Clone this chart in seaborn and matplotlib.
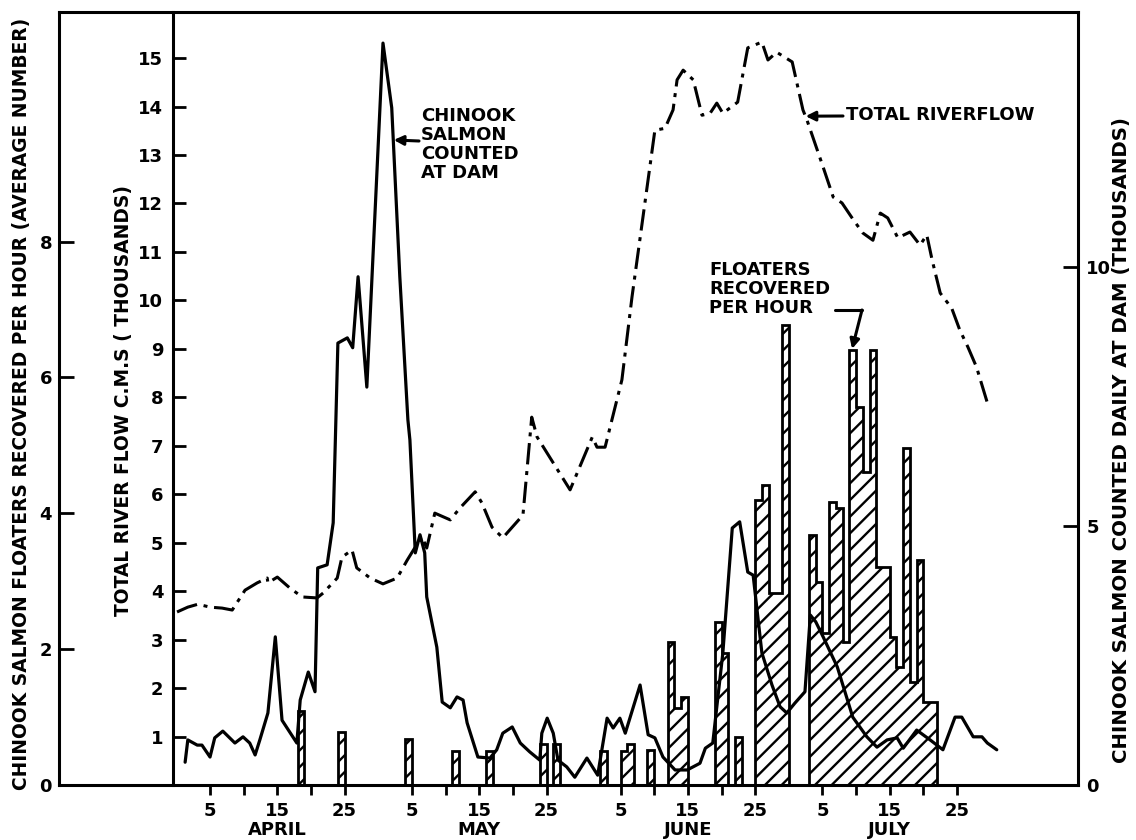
import matplotlib
matplotlib.use("Agg")
import matplotlib.pyplot as plt
import seaborn as sns
import pandas as pd
from matplotlib.lines import Line2D
from matplotlib.transforms import blended_transform_factory

# ---------------- data ----------------
# day index: April 1 = 1, May 1 = 31, June 1 = 62, July 1 = 92
month_names = ["APRIL", "MAY", "JUNE", "JULY"]
month_offsets = [0, 30, 61, 91]
tick_days_in_month = [5, 10, 15, 20, 25]
labelled_days = [5, 15, 25]

# Chinook salmon counted daily at dam (thousands)
salmon_day = [1.3, 1.7, 3.1, 3.8, 5.0, 5.7, 6.9, 8.7, 9.9, 10.9, 11.7, 12.4, 13.6, 14.7, 15.7,
              17.9, 18.4, 19.6, 20.6, 21.0, 22.4, 23.3, 24.0, 25.4, 26.2, 27.0, 28.3, 30.7, 32.0,
              33.2, 34.4, 34.7, 35.5, 36.2, 36.9, 37.2, 38.7, 39.5, 40.7, 41.7, 42.6, 43.2, 44.8,
              46.6, 47.6, 48.5, 49.9, 51.1, 52.5, 54.0, 54.3, 55.1, 56.0, 56.7, 58.0, 59.2, 61.0,
              62.6, 64.0, 64.9, 65.9, 66.7, 68.9, 70.1, 71.1, 72.3, 74.1, 75.9, 77.8, 78.6, 79.7,
              81.2, 82.6, 83.7, 84.9, 85.7, 87.0, 88.5, 89.7, 90.7, 91.9, 93.4, 94.2, 95.0, 96.1,
              98.2, 100.5, 102.6, 104.1, 105.6, 107.1, 108.0, 110.0, 112.0, 113.9, 115.7, 116.7,
              118.4, 119.7, 120.5, 121.9]
salmon_k = [0.44, 0.87, 0.77, 0.77, 0.54, 0.91, 1.04, 0.81, 0.93, 0.81, 0.58, 0.87, 1.39, 2.86, 1.25,
            0.81, 1.64, 2.18, 1.80, 4.19, 4.25, 5.06, 8.53, 8.63, 8.44, 9.81, 7.68, 14.32, 13.07,
            9.81, 7.05, 6.66, 4.48, 4.83, 4.48, 3.63, 2.66, 1.60, 1.49, 1.70, 1.64, 1.20, 0.54,
            0.52, 0.68, 1.00, 1.12, 0.81, 0.64, 0.48, 1.00, 1.29, 1.00, 0.48, 0.35, 0.15, 0.52,
            0.19, 1.29, 1.10, 1.29, 1.00, 1.93, 0.97, 0.91, 0.54, 0.29, 0.29, 0.42, 0.71, 0.81,
            2.55, 4.96, 5.08, 4.11, 4.05, 2.55, 1.93, 1.51, 1.39, 1.58, 1.80, 3.28, 3.15, 2.86,
            2.28, 1.31, 0.93, 0.73, 0.87, 0.91, 0.71, 1.06, 0.87, 0.68, 1.31, 1.31,
            0.93, 0.93, 0.81, 0.68]

# Total river flow (thousands of c.m.s)
flow_day = [0.1, 1.7, 3.2, 5.0, 6.8, 8.3, 10.2, 12.0, 13.5, 13.6, 15.0, 16.9, 18.7, 20.9, 21.8,
            23.9, 24.6, 26.1, 26.8, 28.8, 30.7, 32.8, 34.3, 35.5, 36.5, 37.2, 38.4, 40.7, 42.1,
            44.4, 45.4, 46.9, 48.5, 51.5, 52.8, 53.6, 58.5, 61.8, 62.5, 63.7, 66.2, 67.7, 71.1,
            72.6, 73.8, 74.4, 75.3, 76.8, 78.1, 79.3, 80.3, 81.2, 83.4, 84.9, 87.0, 87.9, 89.2,
            91.5, 93.1, 93.7, 96.1, 97.6, 98.9, 100.6, 102.0, 103.5, 104.6, 105.7, 107.2, 109.0,
            110.5, 111.5, 112.3, 113.5, 115.2, 116.4, 117.6, 118.9, 120.6]
flow_k = [3.57, 3.67, 3.73, 3.67, 3.65, 3.61, 4.02, 4.17, 4.27, 4.17, 4.29, 4.06, 3.88, 3.86, 3.96,
          4.27, 4.70, 4.85, 4.48, 4.27, 4.15, 4.27, 4.64, 4.91, 5.12, 4.89, 5.61, 5.47, 5.71,
          6.05, 5.82, 5.32, 5.10, 5.57, 7.59, 7.18, 6.09, 7.18, 6.97, 6.97, 8.36, 10.07, 13.51,
          13.55, 13.93, 14.55, 14.75, 14.55, 13.82, 13.86, 14.07, 13.86, 14.09, 15.21, 15.33,
          14.96, 15.12, 14.92, 13.93, 13.72, 12.75, 12.13, 12.01, 11.66, 11.39, 11.24, 11.80,
          11.70, 11.29, 11.41, 11.14, 11.35, 10.83, 10.15, 9.84, 9.39, 9.04, 8.62, 7.84]

# Chinook salmon floaters recovered per hour (average number), one bar per day
floater_day = [18, 24, 34, 41, 46, 54, 56, 63, 66, 67, 70, 73, 74, 75, 80, 81, 83, 86, 87, 88,
               89, 90, 94, 95, 96, 97, 98, 99, 100, 101, 102, 103, 104, 105, 106, 107, 108, 109,
               110, 111, 112]
floater_rate = [1.09, 0.78, 0.68, 0.50, 0.50, 0.60, 0.60, 0.50, 0.50, 0.60, 0.52, 2.10, 1.13, 1.30,
                2.40, 1.94, 0.71, 4.20, 4.42, 2.83, 2.83, 6.77, 3.68, 2.99, 2.24, 4.17, 4.08, 2.10,
                6.40, 5.57, 4.61, 6.40, 3.21, 3.21, 2.18, 1.74, 4.96, 1.52, 3.31, 1.22, 1.22]

left_ticks = [0, 2, 4, 6, 8]
flow_ticks = list(range(1, 16))
right_ticks = [0, 5, 10]

# ---------------- style ----------------
sns.set_theme(style="white")
plt.rcParams["font.family"] = ["DejaVu Sans"]
plt.rcParams.update({
    "font.weight": "bold",
    "text.color": "black",
    "axes.labelcolor": "black",
    "xtick.color": "black",
    "ytick.color": "black",
    "hatch.linewidth": 1.7,
    "hatch.color": "black",
})

W, H = 1136, 840
fig = plt.figure(figsize=(W / 100, H / 100), dpi=100)
fig.patch.set_facecolor("white")

L, R, T, B = 59, 1078, 12, 785


def fpx(x, y):
    return (x / W, 1 - y / H)


ax = fig.add_axes([L / W, 1 - B / H, (R - L) / W, (B - T) / H])
ax.set_facecolor("white")
ax.set_xlim(-17.44, 133.97)
ax.set_ylim(0, 11.38)

ax_flow = ax.twinx()
ax_flow.set_ylim(0, 15.95)
ax_salmon = ax.twinx()
ax_salmon.set_ylim(0, 14.92)

# bars: floaters (hatched fill, merged outline)
ax.bar(floater_day, floater_rate, width=1.0, align="edge", facecolor="none",
       edgecolor="black", linewidth=0, hatch="//", zorder=2)
first, last = min(floater_day), max(floater_day)
dense = [0.0] * (last - first + 1)
for d, v in zip(floater_day, floater_rate):
    dense[d - first] = v
edges = list(range(first, last + 2))
ax.stairs(dense, edges, baseline=0, fill=False, color="black", linewidth=2.0, zorder=3)

# salmon counted (solid line)
salmon_df = pd.DataFrame({"day": salmon_day, "count": salmon_k})
sns.lineplot(data=salmon_df, x="day", y="count", ax=ax_salmon, color="black",
             linewidth=2.3, estimator=None, sort=False)

# river flow (dash-dot)
flow_df = pd.DataFrame({"day": flow_day, "flow": flow_k})
sns.lineplot(data=flow_df, x="day", y="flow", ax=ax_flow, color="black",
             linewidth=2.2, estimator=None, sort=False)
ax_flow.lines[-1].set_dashes([7.0, 2.2, 1.3, 2.2])

for a in (ax, ax_flow, ax_salmon):
    a.set_xlabel("")
    a.set_ylabel("")

# spines
lw = 2.2
for s in ["left", "top", "bottom"]:
    ax.spines[s].set_linewidth(lw)
    ax.spines[s].set_color("black")
ax.spines["right"].set_visible(False)

for s in ["right", "top", "bottom"]:
    ax_flow.spines[s].set_visible(False)
ax_flow.spines["left"].set_visible(True)
ax_flow.spines["left"].set_position(("axes", (173 - L) / (R - L)))
ax_flow.spines["left"].set_linewidth(lw)
ax_flow.spines["left"].set_color("black")
ax_flow.yaxis.tick_left()

for s in ["left", "top", "bottom"]:
    ax_salmon.spines[s].set_visible(False)
ax_salmon.spines["right"].set_linewidth(lw)
ax_salmon.spines["right"].set_color("black")

# ticks
ax.set_yticks(left_ticks)
ax.set_yticklabels([str(v) for v in left_ticks])
ax.tick_params(axis="y", left=True, direction="in", length=11, width=2, labelsize=13,
               pad=5, colors="black")

ax_flow.set_yticks(flow_ticks)
ax_flow.set_yticklabels([str(v) for v in flow_ticks])
ax_flow.tick_params(axis="y", left=True, right=False, direction="in", length=9, width=2,
                    labelsize=13, pad=7, colors="black")

ax_salmon.set_yticks(right_ticks)
ax_salmon.set_yticklabels([str(v) for v in right_ticks])
ax_salmon.tick_params(axis="y", right=True, direction="in", length=11, width=2,
                      labelsize=13, pad=6, colors="black")

xt, xl = [], []
for off in month_offsets:
    for d in tick_days_in_month:
        xt.append(off + d)
        xl.append(str(d) if d in labelled_days else "")
ax.set_xticks(xt)
ax.set_xticklabels(xl)
ax.tick_params(axis="x", bottom=True, direction="out", length=7, width=2, labelsize=13,
               pad=5, colors="black")

trans = blended_transform_factory(ax.transData, ax.transAxes)
for name, off in zip(month_names, month_offsets):
    ax.text(off + 15, (B - 830) / (B - T), name, transform=trans, ha="center", va="center",
            fontsize=13, fontweight="bold")

# axis titles
fig.text(*fpx(22, 404), "CHINOOK SALMON FLOATERS RECOVERED PER HOUR (AVERAGE NUMBER)",
         rotation=90, ha="center", va="center", fontsize=13.4, fontweight="bold")
fig.text(*fpx(124, 401), "TOTAL RIVER FLOW C.M.S ( THOUSANDS)",
         rotation=90, ha="center", va="center", fontsize=13.4, fontweight="bold")
fig.text(*fpx(1122, 440), "CHINOOK SALMON COUNTED DAILY AT DAM (THOUSANDS)",
         rotation=90, ha="center", va="center", fontsize=14.2, fontweight="bold")

# annotations
fig.text(*fpx(421, 107), "CHINOOK\nSALMON\nCOUNTED\nAT DAM", ha="left", va="top",
         fontsize=13, fontweight="bold", linespacing=1.08)
ax_salmon.annotate("", xy=(32.3, 12.45), xycoords="data",
                   xytext=fpx(419, 141), textcoords="figure fraction",
                   arrowprops=dict(arrowstyle="-|>", lw=2.2, color="black",
                                   mutation_scale=14, shrinkA=0, shrinkB=0))

fig.text(*fpx(846, 115), "TOTAL RIVERFLOW", ha="left", va="center",
         fontsize=13, fontweight="bold")
ax_flow.annotate("", xy=(93.5, 13.8), xycoords="data",
                 xytext=fpx(843, 116), textcoords="figure fraction",
                 arrowprops=dict(arrowstyle="-|>", lw=2.2, color="black",
                                 mutation_scale=14, shrinkA=0, shrinkB=0))

fig.text(*fpx(709, 289), "FLOATERS\nRECOVERED\nPER HOUR", ha="left", va="center",
         fontsize=13, fontweight="bold", linespacing=1.08)
fig.add_artist(Line2D([835 / W, 862 / W], [1 - 310 / H, 1 - 310 / H], color="black", lw=2.2))
ax.annotate("", xy=(100.4, 6.42), xycoords="data",
            xytext=fpx(862, 310), textcoords="figure fraction",
            arrowprops=dict(arrowstyle="-|>", lw=2.2, color="black",
                            mutation_scale=14, shrinkA=0, shrinkB=0))

fig.savefig("out.png", dpi=100, facecolor="white")
